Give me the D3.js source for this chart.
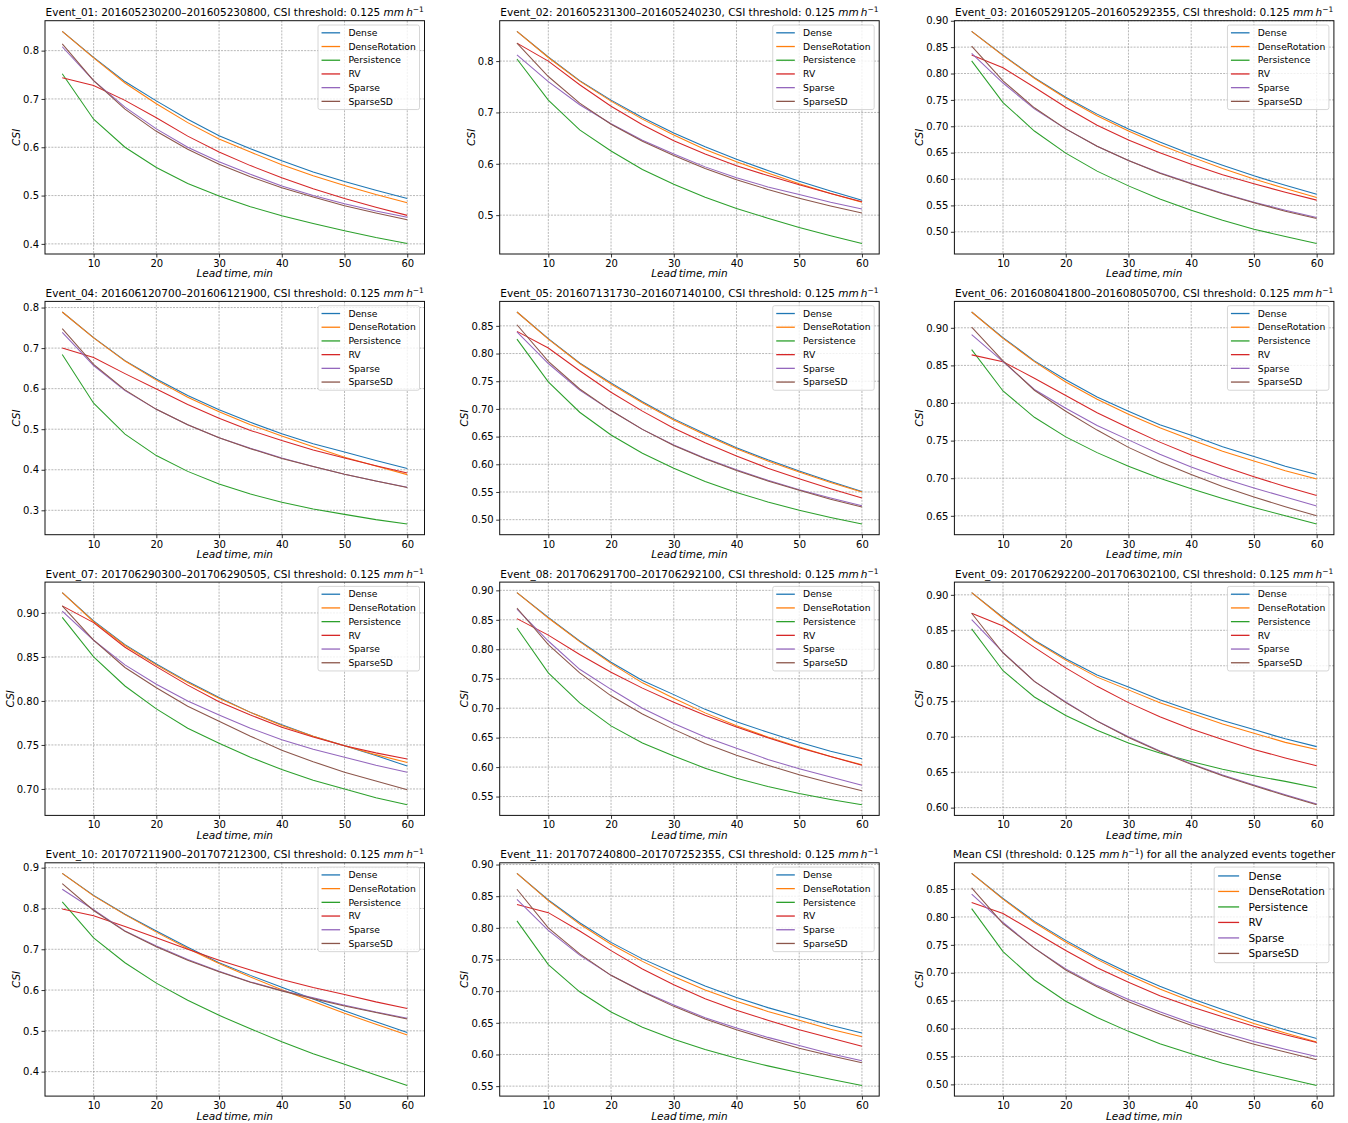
<!DOCTYPE html>
<meta charset="utf-8">
<style>
body { margin: 0; background: #fff; }
svg text { font-family: "DejaVu Sans", sans-serif; fill: #000; }
</style>
<script src="https://d3js.org/d3.v7.min.js"></script>
<svg id="csi" width="1348" height="1123"></svg>
<script>
// lead times (min) and series
var leadTimes = [5, 10, 15, 20, 25, 30, 35, 40, 45, 50, 55, 60];
var xTicks = [10, 20, 30, 40, 50, 60];
var seriesNames = ["Dense", "DenseRotation", "Persistence", "RV", "Sparse", "SparseSD"];
var seriesColors = ["#1f77b4", "#ff7f0e", "#2ca02c", "#d62728", "#9467bd", "#8c564b"];

var eventNames = ["Event_01", "Event_02", "Event_03", "Event_04", "Event_05", "Event_06",
  "Event_07", "Event_08", "Event_09", "Event_10", "Event_11", "Mean"];
var eventPeriods = ["201605230200–201605230800", "201605231300–201605240230",
  "201605291205–201605292355", "201606120700–201606121900", "201607131730–201607140100",
  "201608041800–201608050700", "201706290300–201706290505", "201706291700–201706292100",
  "201706292200–201706302100", "201707211900–201707212300", "201707240800–201707252355", ""];

var yTickLabels = [
  ["0.4", "0.5", "0.6", "0.7", "0.8"],
  ["0.5", "0.6", "0.7", "0.8"],
  ["0.50", "0.55", "0.60", "0.65", "0.70", "0.75", "0.80", "0.85", "0.90"],
  ["0.3", "0.4", "0.5", "0.6", "0.7", "0.8"],
  ["0.50", "0.55", "0.60", "0.65", "0.70", "0.75", "0.80", "0.85"],
  ["0.65", "0.70", "0.75", "0.80", "0.85", "0.90"],
  ["0.70", "0.75", "0.80", "0.85", "0.90"],
  ["0.55", "0.60", "0.65", "0.70", "0.75", "0.80", "0.85", "0.90"],
  ["0.60", "0.65", "0.70", "0.75", "0.80", "0.85", "0.90"],
  ["0.4", "0.5", "0.6", "0.7", "0.8", "0.9"],
  ["0.55", "0.60", "0.65", "0.70", "0.75", "0.80", "0.85", "0.90"],
  ["0.50", "0.55", "0.60", "0.65", "0.70", "0.75", "0.80", "0.85"]
];

// CSI per event (one row per panel, 12 lead times)
var dense = [
  [0.840, 0.786, 0.736, 0.696, 0.658, 0.624, 0.597, 0.572, 0.549, 0.529, 0.511, 0.494],
  [0.858, 0.808, 0.762, 0.724, 0.690, 0.660, 0.633, 0.609, 0.587, 0.566, 0.547, 0.529],
  [0.880, 0.835, 0.792, 0.755, 0.723, 0.695, 0.670, 0.647, 0.626, 0.606, 0.588, 0.571],
  [0.789, 0.726, 0.669, 0.624, 0.583, 0.548, 0.517, 0.489, 0.464, 0.444, 0.423, 0.403],
  [0.875, 0.827, 0.783, 0.747, 0.713, 0.682, 0.655, 0.630, 0.608, 0.588, 0.569, 0.551],
  [0.921, 0.887, 0.856, 0.831, 0.808, 0.789, 0.771, 0.757, 0.742, 0.729, 0.716, 0.705],
  [0.923, 0.891, 0.864, 0.842, 0.822, 0.804, 0.787, 0.773, 0.760, 0.749, 0.738, 0.726],
  [0.896, 0.854, 0.814, 0.778, 0.747, 0.723, 0.698, 0.677, 0.659, 0.642, 0.627, 0.614],
  [0.903, 0.868, 0.836, 0.810, 0.787, 0.770, 0.752, 0.737, 0.723, 0.710, 0.697, 0.686],
  [0.886, 0.832, 0.786, 0.745, 0.705, 0.667, 0.636, 0.607, 0.578, 0.549, 0.522, 0.496],
  [0.886, 0.844, 0.808, 0.777, 0.751, 0.729, 0.708, 0.690, 0.674, 0.660, 0.646, 0.634],
  [0.878, 0.833, 0.792, 0.758, 0.727, 0.700, 0.676, 0.654, 0.634, 0.615, 0.598, 0.582]
];
var denseRotation = [
  [0.840, 0.785, 0.733, 0.690, 0.651, 0.617, 0.590, 0.564, 0.541, 0.521, 0.502, 0.485],
  [0.858, 0.807, 0.761, 0.722, 0.687, 0.656, 0.628, 0.604, 0.582, 0.561, 0.542, 0.525],
  [0.880, 0.834, 0.791, 0.753, 0.720, 0.691, 0.665, 0.642, 0.620, 0.600, 0.582, 0.565],
  [0.789, 0.725, 0.668, 0.621, 0.579, 0.543, 0.511, 0.483, 0.457, 0.431, 0.409, 0.388],
  [0.875, 0.826, 0.782, 0.745, 0.711, 0.680, 0.653, 0.628, 0.606, 0.586, 0.567, 0.550],
  [0.921, 0.886, 0.855, 0.828, 0.805, 0.785, 0.767, 0.751, 0.736, 0.723, 0.710, 0.699],
  [0.923, 0.890, 0.863, 0.841, 0.821, 0.803, 0.787, 0.772, 0.760, 0.749, 0.739, 0.730],
  [0.896, 0.853, 0.813, 0.776, 0.743, 0.717, 0.692, 0.670, 0.651, 0.634, 0.618, 0.604],
  [0.903, 0.867, 0.835, 0.808, 0.784, 0.766, 0.748, 0.733, 0.718, 0.705, 0.692, 0.682],
  [0.886, 0.831, 0.785, 0.742, 0.702, 0.665, 0.632, 0.601, 0.572, 0.543, 0.516, 0.490],
  [0.886, 0.843, 0.806, 0.774, 0.747, 0.723, 0.702, 0.684, 0.668, 0.654, 0.640, 0.628],
  [0.878, 0.832, 0.790, 0.755, 0.724, 0.696, 0.671, 0.649, 0.628, 0.609, 0.592, 0.576]
];
var persistence = [
  [0.752, 0.658, 0.600, 0.558, 0.525, 0.499, 0.477, 0.458, 0.442, 0.427, 0.413, 0.401],
  [0.804, 0.724, 0.666, 0.625, 0.589, 0.560, 0.535, 0.513, 0.494, 0.476, 0.460, 0.445],
  [0.824, 0.745, 0.691, 0.649, 0.615, 0.587, 0.562, 0.541, 0.522, 0.505, 0.491, 0.478],
  [0.684, 0.564, 0.488, 0.435, 0.396, 0.365, 0.340, 0.320, 0.303, 0.290, 0.277, 0.266],
  [0.826, 0.749, 0.694, 0.653, 0.620, 0.593, 0.569, 0.549, 0.532, 0.517, 0.504, 0.492],
  [0.871, 0.816, 0.781, 0.755, 0.734, 0.716, 0.700, 0.686, 0.673, 0.661, 0.650, 0.639],
  [0.895, 0.850, 0.817, 0.791, 0.769, 0.752, 0.736, 0.722, 0.710, 0.700, 0.690, 0.682],
  [0.836, 0.760, 0.709, 0.670, 0.641, 0.619, 0.598, 0.581, 0.567, 0.555, 0.545, 0.536],
  [0.852, 0.793, 0.756, 0.730, 0.709, 0.691, 0.677, 0.665, 0.654, 0.645, 0.637, 0.628],
  [0.816, 0.728, 0.667, 0.617, 0.575, 0.538, 0.505, 0.473, 0.444, 0.418, 0.392, 0.366],
  [0.811, 0.742, 0.699, 0.667, 0.643, 0.624, 0.608, 0.594, 0.582, 0.571, 0.561, 0.551],
  [0.815, 0.738, 0.687, 0.649, 0.620, 0.595, 0.573, 0.555, 0.538, 0.524, 0.511, 0.498]
];
var rv = [
  [0.744, 0.728, 0.697, 0.661, 0.623, 0.590, 0.562, 0.537, 0.514, 0.494, 0.476, 0.459],
  [0.835, 0.800, 0.754, 0.712, 0.676, 0.645, 0.619, 0.596, 0.577, 0.559, 0.542, 0.526],
  [0.835, 0.811, 0.774, 0.736, 0.702, 0.674, 0.650, 0.628, 0.608, 0.591, 0.575, 0.560],
  [0.700, 0.677, 0.637, 0.599, 0.561, 0.527, 0.497, 0.472, 0.449, 0.429, 0.410, 0.392],
  [0.840, 0.810, 0.769, 0.730, 0.696, 0.665, 0.639, 0.615, 0.593, 0.574, 0.556, 0.539],
  [0.864, 0.855, 0.833, 0.810, 0.787, 0.767, 0.748, 0.731, 0.716, 0.702, 0.689, 0.677],
  [0.908, 0.889, 0.861, 0.839, 0.818, 0.799, 0.784, 0.770, 0.759, 0.749, 0.741, 0.734],
  [0.852, 0.824, 0.791, 0.761, 0.734, 0.710, 0.688, 0.668, 0.650, 0.633, 0.618, 0.603],
  [0.874, 0.856, 0.826, 0.797, 0.771, 0.748, 0.728, 0.711, 0.696, 0.682, 0.670, 0.659],
  [0.799, 0.782, 0.756, 0.728, 0.700, 0.673, 0.649, 0.626, 0.606, 0.589, 0.571, 0.555],
  [0.837, 0.824, 0.795, 0.764, 0.735, 0.710, 0.688, 0.670, 0.654, 0.639, 0.626, 0.613],
  [0.826, 0.806, 0.773, 0.740, 0.709, 0.683, 0.659, 0.639, 0.621, 0.604, 0.589, 0.575]
];
var sparse = [
  [0.808, 0.738, 0.683, 0.638, 0.600, 0.570, 0.544, 0.520, 0.500, 0.483, 0.468, 0.455],
  [0.812, 0.760, 0.715, 0.678, 0.646, 0.619, 0.594, 0.573, 0.555, 0.540, 0.525, 0.512],
  [0.838, 0.782, 0.733, 0.695, 0.662, 0.635, 0.612, 0.592, 0.573, 0.556, 0.541, 0.527],
  [0.739, 0.657, 0.595, 0.549, 0.511, 0.479, 0.453, 0.429, 0.408, 0.389, 0.372, 0.357],
  [0.839, 0.782, 0.734, 0.697, 0.663, 0.635, 0.611, 0.590, 0.571, 0.554, 0.539, 0.525],
  [0.891, 0.855, 0.818, 0.793, 0.770, 0.751, 0.732, 0.715, 0.700, 0.687, 0.675, 0.663],
  [0.902, 0.869, 0.841, 0.819, 0.800, 0.784, 0.769, 0.756, 0.745, 0.736, 0.727, 0.719],
  [0.868, 0.814, 0.766, 0.732, 0.700, 0.674, 0.651, 0.632, 0.613, 0.597, 0.583, 0.569],
  [0.865, 0.819, 0.778, 0.749, 0.722, 0.700, 0.680, 0.662, 0.646, 0.632, 0.618, 0.605],
  [0.847, 0.797, 0.745, 0.708, 0.675, 0.646, 0.620, 0.599, 0.581, 0.563, 0.546, 0.531],
  [0.845, 0.796, 0.757, 0.725, 0.700, 0.678, 0.658, 0.642, 0.627, 0.614, 0.601, 0.590],
  [0.841, 0.790, 0.744, 0.707, 0.677, 0.652, 0.630, 0.610, 0.593, 0.577, 0.563, 0.550]
];
var sparseSD = [
  [0.814, 0.738, 0.679, 0.633, 0.596, 0.565, 0.539, 0.516, 0.497, 0.479, 0.464, 0.450],
  [0.835, 0.770, 0.718, 0.677, 0.644, 0.616, 0.591, 0.569, 0.550, 0.533, 0.518, 0.504],
  [0.852, 0.786, 0.735, 0.695, 0.662, 0.635, 0.611, 0.591, 0.572, 0.555, 0.539, 0.525],
  [0.748, 0.660, 0.597, 0.549, 0.511, 0.479, 0.452, 0.428, 0.408, 0.389, 0.372, 0.356],
  [0.852, 0.786, 0.736, 0.697, 0.663, 0.634, 0.610, 0.589, 0.570, 0.553, 0.537, 0.523],
  [0.901, 0.856, 0.817, 0.789, 0.764, 0.741, 0.722, 0.705, 0.689, 0.675, 0.662, 0.650],
  [0.908, 0.869, 0.838, 0.815, 0.794, 0.777, 0.760, 0.744, 0.731, 0.719, 0.709, 0.699],
  [0.870, 0.808, 0.760, 0.721, 0.690, 0.664, 0.640, 0.620, 0.603, 0.587, 0.573, 0.560],
  [0.874, 0.818, 0.778, 0.748, 0.722, 0.699, 0.679, 0.661, 0.645, 0.631, 0.617, 0.604],
  [0.861, 0.795, 0.744, 0.706, 0.673, 0.645, 0.619, 0.598, 0.579, 0.561, 0.545, 0.529],
  [0.861, 0.800, 0.759, 0.725, 0.699, 0.676, 0.656, 0.639, 0.624, 0.610, 0.598, 0.587],
  [0.852, 0.788, 0.744, 0.705, 0.675, 0.648, 0.626, 0.606, 0.588, 0.572, 0.558, 0.544]
];

var svg = d3.select("#csi");
var series = [dense, denseRotation, persistence, rv, sparse, sparseSD];

// panel grid
var colLeft = [45, 499.7, 954.4];
var rowTop = [20.7, 301.4, 582.1, 862.8];
var axW = 379.5, axH = 233.3;

// matplotlib-ish default x limits (5% margins)
var x = d3.scaleLinear()
  .domain([5 - 0.05 * 55, 60 + 0.05 * 55])
  .range([0, axW]);

function addTitle(g, i) {
  var t = g.append("text")
    .attr("x", axW / 2).attr("y", -4.5)
    .attr("text-anchor", "middle")
    .style("font-size", "10.5px");
  if (i < 11) {
    t.append("tspan").text(eventNames[i] + ": " + eventPeriods[i] + ", CSI threshold: 0.125 ");
    t.append("tspan").style("font-style", "italic").text("mm\u2009h");
    t.append("tspan").attr("dy", -4).style("font-size", "7.5px").text("\u22121");
    t.append("tspan").attr("dy", 4).text("");
  } else {
    t.append("tspan").text("Mean CSI (threshold: 0.125 ");
    t.append("tspan").style("font-style", "italic").text("mm\u2009h");
    t.append("tspan").attr("dy", -4).style("font-size", "7.5px").text("\u22121");
    t.append("tspan").attr("dy", 4).text(") for all the analyzed events together");
  }
}

eventNames.forEach(function(name, i) {
  var g = svg.append("g")
    .attr("transform", "translate(" + colLeft[i % 3] + "," + rowTop[Math.floor(i / 3)] + ")");

  var vals = d3.merge(series.map(function(s) { return s[i]; }));
  var lo = d3.min(vals), hi = d3.max(vals), pad = (hi - lo) * 0.05;
  var y = d3.scaleLinear().domain([lo - pad, hi + pad]).range([axH, 0]);
  var yTicks = yTickLabels[i].map(Number);

  // grid
  var grid = g.append("g")
    .attr("stroke", "#999")
    .attr("stroke-width", 0.7)
    .attr("stroke-dasharray", "2,1.2");
  grid.selectAll(".gx").data(xTicks).enter().append("line")
    .attr("x1", d => x(d)).attr("x2", d => x(d))
    .attr("y1", 0).attr("y2", axH);
  grid.selectAll(".gy").data(yTicks).enter().append("line")
    .attr("x1", 0).attr("x2", axW)
    .attr("y1", d => y(d)).attr("y2", d => y(d));

  // series lines
  var line = d3.line()
    .x(function(d, k) { return x(leadTimes[k]); })
    .y(function(d) { return y(d); });
  series.forEach(function(s, j) {
    g.append("path")
      .datum(s[i])
      .attr("fill", "none")
      .attr("stroke", seriesColors[j])
      .attr("stroke-width", 1.05)
      .attr("d", line);
  });

  // axes
  var xAxis = g.append("g")
    .attr("transform", "translate(0," + axH + ")")
    .call(d3.axisBottom(x).tickValues(xTicks).tickSize(3.5).tickPadding(2.5));
  var yAxis = g.append("g")
    .call(d3.axisLeft(y).tickValues(yTicks)
      .tickFormat(function(d, k) { return yTickLabels[i][k]; })
      .tickSize(3.5).tickPadding(2.5));
  [xAxis, yAxis].forEach(function(a) {
    a.select(".domain").remove();
    a.selectAll("text").style("font-size", "10px").attr("fill", "#000");
    a.selectAll("line").attr("stroke", "#000").attr("stroke-width", 0.8);
  });

  // frame
  g.append("rect")
    .attr("width", axW).attr("height", axH)
    .attr("fill", "none").attr("stroke", "#111").attr("stroke-width", 1);

  addTitle(g, i);

  // axis labels
  var maxW = d3.max(yAxis.selectAll("text").nodes(), function(n) { return n.getComputedTextLength(); });
  g.append("text")
    .attr("transform", "translate(" + (-6 - maxW - 3) + "," + (axH / 2) + ") rotate(-90)")
    .attr("text-anchor", "middle")
    .style("font-size", "10.5px").style("font-style", "italic")
    .text("CSI");
  g.append("text")
    .attr("x", axW / 2).attr("y", axH + 23.5)
    .attr("text-anchor", "middle")
    .style("font-size", "10.5px").style("font-style", "italic")
    .text("Lead\u2009time,\u2009min");

  // legend
  var fs = i === 11 ? 10.4 : 9.2;
  var rowH = fs * 1.49;
  var lg = g.append("g");
  var box = lg.append("rect")
    .attr("rx", 2).attr("ry", 2)
    .attr("fill", "#fff").attr("fill-opacity", 0.8)
    .attr("stroke", "#ccc").attr("stroke-width", 0.8);
  var items = lg.selectAll(".item").data(seriesNames).enter().append("g")
    .attr("transform", function(d, k) { return "translate(0," + (fs * 0.85 + k * rowH) + ")"; });
  items.append("line")
    .attr("x1", fs * 0.38).attr("x2", fs * 2.4)
    .attr("stroke", function(d, k) { return seriesColors[k]; })
    .attr("stroke-width", 1.3);
  var labels = items.append("text")
    .attr("x", fs * 3.3).attr("dy", "0.35em")
    .style("font-size", fs + "px")
    .text(function(d) { return d; });
  var tw = d3.max(labels.nodes(), function(n) { return n.getComputedTextLength(); });
  var lw = fs * 3.3 + tw + fs * 0.4;
  var lh = 6 * rowH + fs * 0.25;
  box.attr("width", lw).attr("height", lh);
  lg.attr("transform", "translate(" + (axW - 5 - lw) + ",4.3)");
});
</script>
